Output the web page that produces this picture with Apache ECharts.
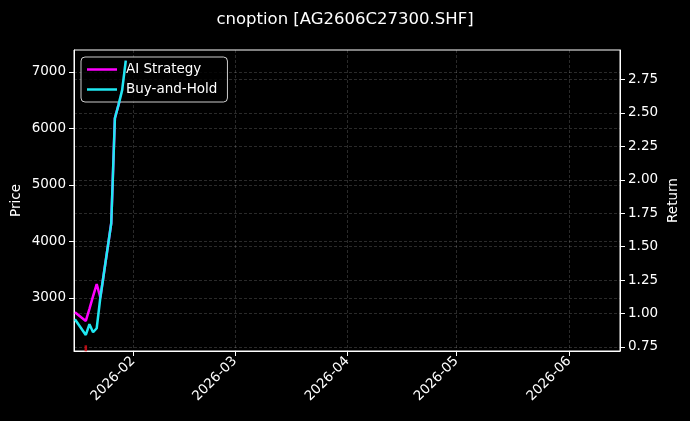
<!DOCTYPE html>
<html>
<head>
<meta charset="utf-8">
<script src="https://cdn.jsdelivr.net/npm/echarts@6/dist/echarts.min.js"></script>
<style>
html,body{margin:0;padding:0;background:#000;}
#c{width:690px;height:421px;}
</style>
</head>
<body>
<div id="c"></div>
<script>
// ---- data ----
const titleText = 'cnoption [AG2606C27300.SHF]';
const dates = ['2026-01-16','2026-01-19','2026-01-20','2026-01-21','2026-01-22','2026-01-23','2026-01-26','2026-01-27','2026-01-28','2026-01-29','2026-01-30'];
const aiStrategy = [1.01, 0.945, 1.035, 1.13, 1.22, 1.12, 1.675, 2.46, 2.56, 2.67, 2.89];
const buyHold    = [0.957, 0.84, 0.92, 0.86, 0.89, 1.12, 1.675, 2.46, 2.56, 2.67, 2.89];
const tradeDates = ['2026-01-19'];
const tradePrices = [2110];
const priceTicks = [3000, 4000, 5000, 6000, 7000];
const returnTicks = [0.75, 1.00, 1.25, 1.50, 1.75, 2.00, 2.25, 2.50, 2.75];
const monthTicks = ['2026-02-01','2026-03-01','2026-04-01','2026-05-01','2026-06-01'];

const FONT = 'DejaVu Sans';
const ts = s => new Date(s + (s.length === 10 ? 'T00:00:00' : '')).getTime();
const chart = echarts.init(document.getElementById('c'), null, {renderer:'canvas'});
const gridLine = {show:true, lineStyle:{color:'rgba(255,255,255,0.28)', type:[3,2], width:0.6}};
const monthVals = monthTicks.map(ts);

chart.setOption({
  backgroundColor:'#000',
  animation:false,
  title:{text:titleText, left:'center', top:6,
    textStyle:{color:'#fff', fontFamily:FONT, fontSize:16.5, fontWeight:'normal'}},
  grid:{left:74, right:70, top:50, bottom:70, show:true, borderColor:'#fff', borderWidth:1,
    backgroundColor:'#000', containLabel:false, outerBoundsMode:'none'},
  legend:{
    orient:'vertical', left:81, top:57,
    padding:[5,10,5,6], itemGap:5, itemWidth:30, itemHeight:2.5, icon:'rect',
    backgroundColor:'rgba(0,0,0,0.8)', borderColor:'rgba(255,255,255,0.8)', borderWidth:1, borderRadius:4,
    textStyle:{color:'#fff', fontFamily:FONT, fontSize:13.5, lineHeight:15, padding:[0,0,0,4]},
    data:[{name:'AI Strategy'},{name:'Buy-and-Hold'}]
  },
  xAxis:{
    type:'value',
    min:ts('2026-01-15T18:00:00'),
    max:ts('2026-06-15T00:00:00'),
    axisLine:{show:true, onZero:false, lineStyle:{color:'#fff'}},
    axisTick:{show:true, length:5, lineStyle:{color:'#fff'}, customValues:monthVals},
    axisLabel:{color:'#fff', fontFamily:FONT, fontSize:13.5, rotate:45, margin:8,
      customValues:monthVals,
      formatter:function(v){const d=new Date(v);return d.getFullYear()+'-'+String(d.getMonth()+1).padStart(2,'0');}},
    splitLine:gridLine
  },
  yAxis:[{
    type:'value', position:'left', min:2062, max:7389,
    name:'Price', nameLocation:'middle', nameGap:51, nameRotate:90, nameMoveOverlap:false,
    nameTextStyle:{color:'#fff', fontFamily:FONT, fontSize:13.5},
    axisLine:{show:true, lineStyle:{color:'#fff'}},
    axisTick:{show:true, length:5, lineStyle:{color:'#fff'}, customValues:priceTicks},
    axisLabel:{color:'#fff', fontFamily:FONT, fontSize:13.5, margin:8, customValues:priceTicks,
      formatter:v=>String(Math.round(v))},
    splitLine:gridLine
  },{
    type:'value', position:'right', min:0.72, max:2.97,
    name:'Return', nameLocation:'middle', nameGap:46, nameRotate:90, nameMoveOverlap:false,
    nameTextStyle:{color:'#fff', fontFamily:FONT, fontSize:13.5},
    axisLine:{show:true, lineStyle:{color:'#fff'}},
    axisTick:{show:true, length:5, lineStyle:{color:'#fff'}, customValues:returnTicks},
    axisLabel:{color:'#fff', fontFamily:FONT, fontSize:13.5, margin:8, customValues:returnTicks,
      formatter:v=>v.toFixed(2)},
    splitLine:gridLine
  }],
  series:[{
    name:'AI Strategy', type:'line', yAxisIndex:1, showSymbol:false, symbol:'none',
    color:'#ff00ff', lineStyle:{width:2.5, color:'#ff00ff'},
    data:dates.map((d,i)=>[ts(d), aiStrategy[i]]), z:3, clip:true
  },{
    name:'Buy-and-Hold', type:'line', yAxisIndex:1, showSymbol:false, symbol:'none',
    color:'#1fe8f2', lineStyle:{width:2.5, color:'#1fe8f2'},
    data:dates.map((d,i)=>[ts(d), buyHold[i]]), z:4, clip:true
  },{
    name:'trades', type:'scatter', yAxisIndex:0, symbol:'rect', symbolSize:[2.5,6],
    itemStyle:{color:'#e0101a'},
    data:tradeDates.map((d,i)=>[ts(d), tradePrices[i]]), z:2
  }]
});
</script>
</body>
</html>
